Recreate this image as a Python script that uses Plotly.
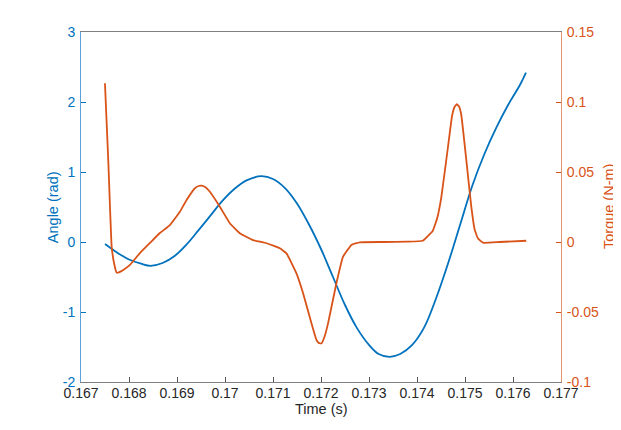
import plotly.graph_objects as go

# Angle series (rad)
angle_t = [0.16750, 0.16775, 0.16800, 0.16825, 0.16845, 0.16870, 0.16895, 0.16920,
           0.16945, 0.16970, 0.16995, 0.17020, 0.17045, 0.17076, 0.17100, 0.17125,
           0.17150, 0.17175, 0.17200, 0.17225, 0.17250, 0.17275, 0.17300, 0.17320,
           0.17343, 0.17365, 0.17390, 0.17415, 0.17440, 0.17465, 0.17490, 0.17515,
           0.17540, 0.17565, 0.17590, 0.17615, 0.17627]
angle_v = [-0.03, -0.15, -0.25, -0.31, -0.34, -0.30, -0.20, -0.035,
           0.17, 0.38, 0.59, 0.76, 0.88, 0.94, 0.90, 0.77,
           0.55, 0.25, -0.10, -0.50, -0.90, -1.23, -1.47, -1.60,
           -1.64, -1.60, -1.47, -1.22, -0.80, -0.30, 0.25, 0.80,
           1.25, 1.63, 1.96, 2.25, 2.42]

# Torque series (N-m)
torque_t = [0.167499, 0.167568, 0.167639, 0.167700, 0.167743, 0.167800, 0.167880, 0.168020,
            0.168228, 0.168436, 0.168644, 0.168852, 0.169060, 0.169200, 0.169373, 0.169450,
            0.169512, 0.169600, 0.169685, 0.169893, 0.170101, 0.170309, 0.170580, 0.170865,
            0.171142, 0.171281, 0.171489, 0.171627, 0.171801, 0.171905, 0.171960, 0.172009,
            0.172070, 0.172147, 0.172321, 0.172459, 0.172634, 0.172806, 0.173300, 0.173800,
            0.174118, 0.174326, 0.174420, 0.174507, 0.174644, 0.174730, 0.174784, 0.174832,
            0.174880, 0.174923, 0.175027, 0.175131, 0.175200, 0.175268, 0.175373, 0.175720,
            0.176276]
torque_v = [0.1134, 0.0586, -0.0034, -0.0170, -0.0219, -0.0215, -0.0200, -0.0164,
            -0.0079, -0.0007, 0.0064, 0.0121, 0.0216, 0.0300, 0.0384, 0.0400,
            0.0402, 0.0390, 0.0359, 0.0252, 0.0134, 0.0062, 0.0014, -0.0009,
            -0.0045, -0.0081, -0.0224, -0.0366, -0.0581, -0.0700, -0.0722, -0.0724,
            -0.0680, -0.0581, -0.0295, -0.0105, -0.0021, -0.0002, 0.0000, 0.0002,
            0.0009, 0.0079, 0.0170, 0.0321, 0.0675, 0.0900, 0.0966, 0.0984,
            0.0965, 0.0907, 0.0586, 0.0252, 0.0090, 0.0026, -0.0005, 0.0000,
            0.0009]

x_ticks = [0.167, 0.168, 0.169, 0.170, 0.171, 0.172, 0.173, 0.174, 0.175, 0.176, 0.177]
x_labels = ["0.167", "0.168", "0.169", "0.17", "0.171", "0.172", "0.173", "0.174", "0.175", "0.176", "0.177"]
y1_ticks = [-2, -1, 0, 1, 2, 3]
y1_labels = ["-2", "-1", "0", "1", "2", "3"]
y2_ticks = [-0.1, -0.05, 0, 0.05, 0.1, 0.15]
y2_labels = ["-0.1", "-0.05", "0", "0.05", "0.1", "0.15"]

BLUE = "#0072BD"
ORANGE = "#D95319"
FONT = "Liberation Sans, Arial, sans-serif"

fig = go.Figure()
fig.add_trace(go.Scatter(x=angle_t, y=angle_v, mode="lines",
                         line=dict(color=BLUE, width=1.8, shape="spline", smoothing=1.0),
                         yaxis="y", showlegend=False))
fig.add_trace(go.Scatter(x=torque_t, y=torque_v, mode="lines",
                         line=dict(color=ORANGE, width=1.8, shape="spline", smoothing=0.3),
                         yaxis="y2", showlegend=False))

# page body has an 8px margin, so the figure is offset by (8, 8) in the window
fig.update_layout(
    width=613, height=414,
    margin=dict(l=73, r=60, t=24, b=40, autoexpand=False),
    paper_bgcolor="white", plot_bgcolor="white",
    font=dict(family=FONT, size=14, color="#262626"),
    xaxis=dict(range=[0.167, 0.177], tickvals=x_ticks, ticktext=x_labels,
               ticks="inside", ticklen=5, tickcolor="#555555",
               showline=True, linecolor="#808080", linewidth=1, mirror=True,
               showgrid=False, zeroline=False, automargin=False,
               ticklabelstandoff=-2,
               tickfont=dict(size=14, color="#262626")),
    yaxis=dict(range=[-2, 3], tickvals=y1_ticks, ticktext=y1_labels,
               ticks="inside", ticklen=5, tickcolor=BLUE,
               showline=True, linecolor="#5BA3D6", linewidth=1,
               showgrid=False, zeroline=False, automargin=False,
               ticklabelstandoff=2,
               tickfont=dict(size=14, color=BLUE)),
    yaxis2=dict(range=[-0.1, 0.15], tickvals=y2_ticks, ticktext=y2_labels,
                overlaying="y", side="right", anchor="x",
                ticks="inside", ticklen=5, tickcolor=ORANGE,
                showline=True, linecolor="#E0936F", linewidth=1,
                showgrid=False, zeroline=False, automargin=False,
                ticklabelstandoff=2,
                tickfont=dict(size=14, color=ORANGE)),
    annotations=[
        dict(text="Time (s)", xref="paper", yref="paper", x=0.5, y=-0.077,
             xanchor="center", yanchor="middle", showarrow=False,
             font=dict(size=14.5, color="#262626")),
        dict(text="Angle (rad)", xref="paper", yref="paper", x=-0.058, y=0.5,
             xanchor="center", yanchor="middle", textangle=-90, showarrow=False,
             font=dict(size=14.5, color=BLUE)),
        dict(text="Torque (N-m)", xref="paper", yref="paper", x=1.100, y=0.5,
             xanchor="center", yanchor="middle", textangle=-90, showarrow=False,
             font=dict(size=14.5, color=ORANGE)),
    ],
)

fig.write_html("out.html")
